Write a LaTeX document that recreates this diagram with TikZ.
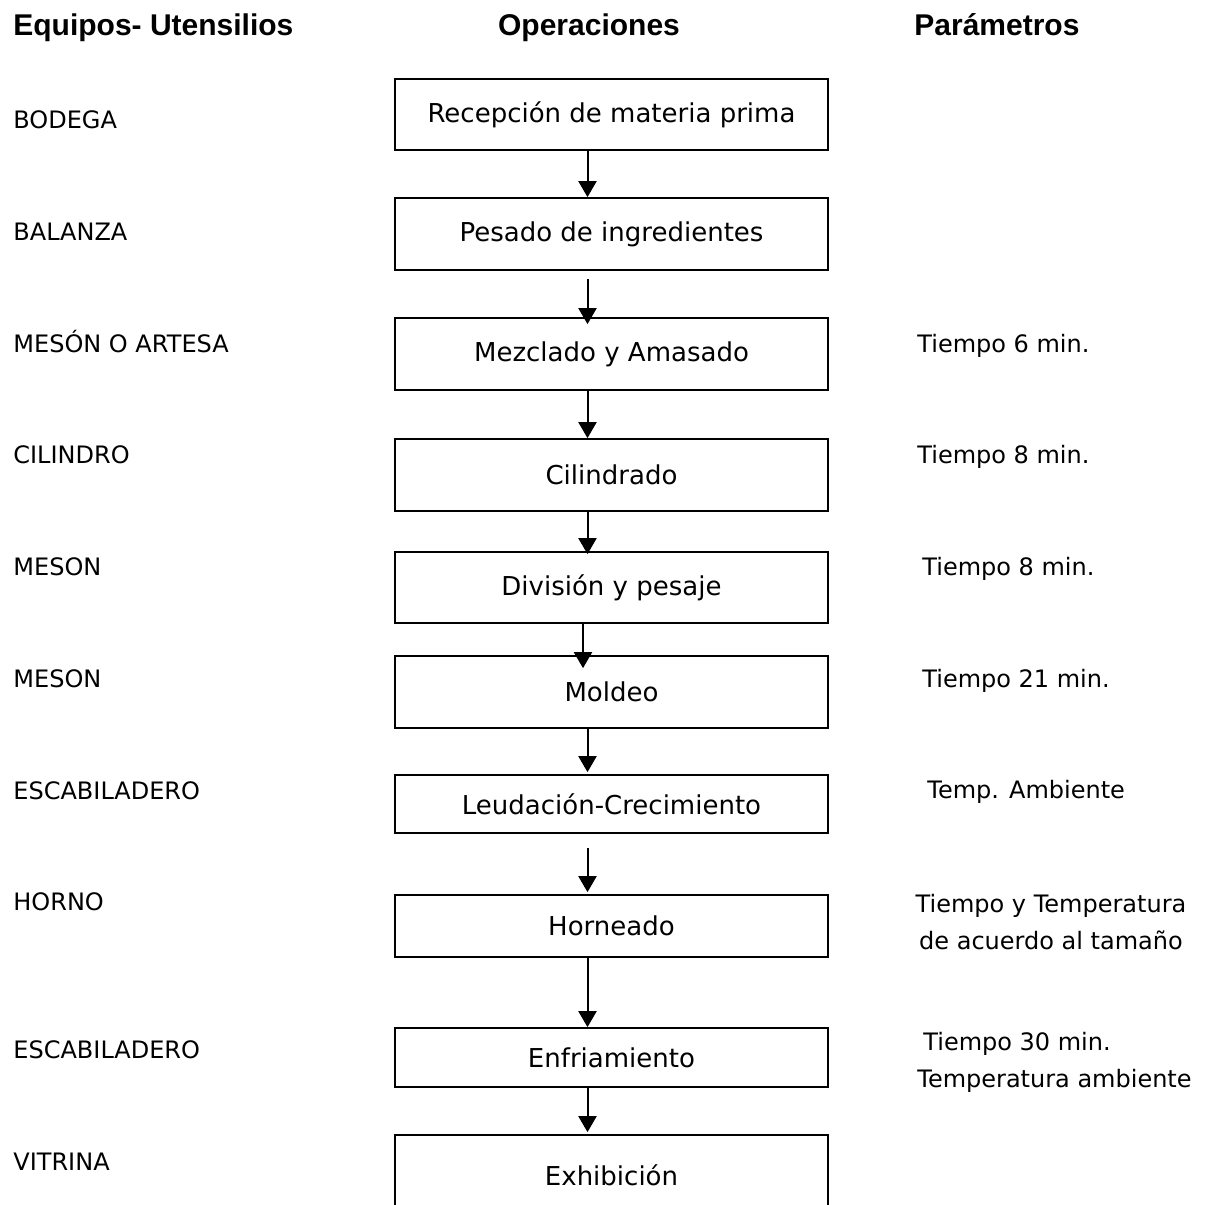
\documentclass[tikz,border=0pt]{standalone}
\usepackage{fontspec}
\setmainfont{DejaVu Sans}
\newfontfamily\headfont{Liberation Sans}
\usetikzlibrary{arrows.meta}

\begin{document}
\begin{tikzpicture}[x=0.5pt, y=-0.5pt, >={Triangle[width=9pt,length=8pt]},
    box/.style={draw, line width=0.85pt, minimum width=216.5pt, inner sep=0pt, font=\fontsize{13}{15}\selectfont},
    equipo/.style={anchor=base west, inner sep=0pt, font=\fontsize{12}{14}\selectfont},
    titulo/.style={inner sep=0pt, font=\headfont\bfseries\fontsize{15}{18}\selectfont},
    flecha/.style={->, line width=1pt}]
    \useasboundingbox (0,0) rectangle (1207,1205);

    % Column headers
    \node[titulo, anchor=base west] (hequ) at (13,35) {Equipos- Utensilios};
    \node[titulo, anchor=base] (hope) at (589,35) {Operaciones};
    \node[titulo, anchor=base west] (hpar) at (914,35) {Parámetros};

    % Operations
    \node[box, minimum height=35.5pt] (rec) at (611.5,114.5) {Recepción de materia prima};
    \node[box, minimum height=36pt] (pes) at (611.5,234) {Pesado de ingredientes};
    \node[box, minimum height=36pt] (mez) at (611.5,354) {Mezclado y Amasado};
    \node[box, minimum height=36pt] (cil) at (611.5,475) {Cilindrado};
    \node[box, minimum height=35.5pt] (div) at (611.5,587.5) {División y pesaje};
    \node[box, minimum height=36pt] (mol) at (611.5,692) {Moldeo};
    \node[box, minimum height=29pt] (leu) at (611.5,804) {Leudación-Crecimiento};
    \node[box, minimum height=31pt] (hor) at (611.5,926) {Horneado};
    \node[box, minimum height=29.5pt] (enf) at (611.5,1057.5) {Enfriamiento};
    \node[box, minimum height=40pt] (exh) at (611.5,1175) {Exhibición};

    % Flow
    \coordinate (ax) at (587.5,0);
    \coordinate (bx) at (583,0);
    \draw[flecha] (rec.south -| ax) -- (pes.north -| ax);
    \draw[flecha, shorten <=4pt, shorten >=-3.5pt] (pes.south -| ax) -- (mez.north -| ax);
    \draw[flecha] (mez.south -| ax) -- (cil.north -| ax);
    \draw[flecha, shorten >=-1.5pt] (cil.south -| ax) -- (div.north -| ax);
    \draw[flecha, shorten >=-6.5pt] (div.south -| bx) -- (mol.north -| bx);
    \draw[flecha, shorten >=1pt] (mol.south -| ax) -- (leu.north -| ax);
    \draw[flecha, shorten <=7pt, shorten >=1pt] (leu.south -| ax) -- (hor.north -| ax);
    \draw[flecha] (hor.south -| ax) -- (enf.north -| ax);
    \draw[flecha, shorten >=1pt] (enf.south -| ax) -- (exh.north -| ax);

    % Equipment
    \node[equipo] (e1) at (13,128) {BODEGA};
    \node[equipo] (e2) at (13,240) {BALANZA};
    \node[equipo] (e3) at (13,352) {MESÓN O ARTESA};
    \node[equipo] (e4) at (13,463) {CILINDRO};
    \node[equipo] (e5) at (13,575) {MESON};
    \node[equipo] (e6) at (13,687) {MESON};
    \node[equipo] (e7) at (13,799) {ESCABILADERO};
    \node[equipo] (e8) at (13,910) {HORNO};
    \node[equipo] (e9) at (13,1058) {ESCABILADERO};
    \node[equipo] (e10) at (13,1170) {VITRINA};

    % Parameters
    \node[equipo] (p1) at (917,352) {Tiempo 6 min.};
    \node[equipo] (p2) at (917,463) {Tiempo 8 min.};
    \node[equipo] (p3) at (922,575) {Tiempo 8 min.};
    \node[equipo] (p4) at (922,687) {Tiempo 21 min.};
    \node[equipo] (p5) at (927,798) {Temp. Ambiente};
    \node[equipo, anchor=north, align=center, font=\fontsize{12}{18.5}\selectfont] (p6) at (1051,894) {Tiempo y Temperatura\\de acuerdo al tamaño};
    \node[equipo] (p7) at (923,1050) {Tiempo 30 min.};
    \node[equipo] (p8) at (917,1087) {Temperatura ambiente};
\end{tikzpicture}
\end{document}
